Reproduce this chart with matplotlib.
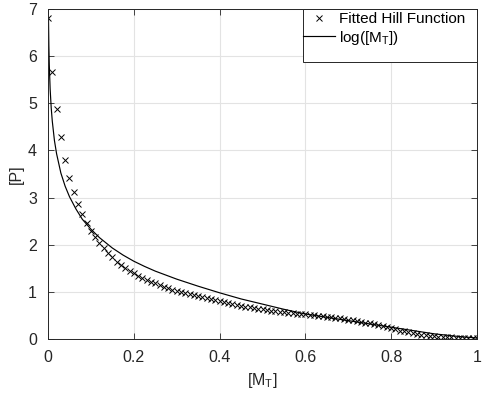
import numpy as np
import matplotlib
matplotlib.use("Agg")
import matplotlib.pyplot as plt
from matplotlib.patches import Rectangle

plt.rcParams["font.family"] = ["Liberation Sans", "DejaVu Sans"]
plt.rcParams["font.size"] = 11

# fitted hill function, sampled every 0.01 in [M_T]
hill_x = np.linspace(0, 1, 101)
hill_y = [6.80, 5.67, 4.87, 4.29, 3.80, 3.42, 3.12, 2.86, 2.65, 2.46,
          2.30, 2.16, 2.04, 1.93, 1.83, 1.73, 1.64, 1.57, 1.51, 1.45,
          1.39, 1.34, 1.29, 1.25, 1.21, 1.18, 1.14, 1.11, 1.08, 1.05,
          1.02, 0.99, 0.97, 0.95, 0.93, 0.91, 0.89, 0.87, 0.85, 0.82,
          0.80, 0.78, 0.76, 0.74, 0.72, 0.70, 0.68, 0.67, 0.65, 0.64,
          0.63, 0.62, 0.60, 0.59, 0.58, 0.57, 0.56, 0.55, 0.54, 0.53,
          0.52, 0.51, 0.50, 0.49, 0.48, 0.47, 0.46, 0.45, 0.44, 0.42,
          0.41, 0.40, 0.38, 0.37, 0.35, 0.34, 0.32, 0.30, 0.28, 0.26,
          0.24, 0.21, 0.18, 0.16, 0.14, 0.12, 0.11, 0.09, 0.08, 0.07,
          0.06, 0.05, 0.045, 0.04, 0.035, 0.03, 0.025, 0.02, 0.02, 0.015,
          0.015]

# log curve
log_x = [0.0011, 0.002, 0.003, 0.005, 0.0075, 0.01, 0.015, 0.02, 0.03, 0.04,
         0.05, 0.065, 0.08, 0.1, 0.12, 0.15, 0.175, 0.2, 0.225, 0.25, 0.3,
         0.35, 0.4, 0.45, 0.5, 0.55, 0.6, 0.65, 0.7, 0.75, 0.8, 0.85, 0.9,
         0.95, 1.0]
log_y = [6.82, 6.22, 5.81, 5.30, 4.90, 4.62, 4.21, 3.93, 3.52, 3.24,
         3.02, 2.76, 2.54, 2.33, 2.15, 1.93, 1.78, 1.65, 1.54, 1.44, 1.27,
         1.12, 0.98, 0.85, 0.74, 0.63, 0.53, 0.46, 0.39, 0.32, 0.25, 0.18,
         0.11, 0.06, 0.02]

ink = "#262626"

fig = plt.figure(figsize=(4.83, 3.95), dpi=100)
ax = fig.add_axes([48 / 483, 56 / 395, 429 / 483, 330 / 395])

ax.plot(hill_x, hill_y, "x", color="black", markersize=4.5, markeredgewidth=0.7,
        label="Fitted Hill Function")
ax.plot(log_x, log_y, "-", color="black", linewidth=0.85,
        label="log([M$_\\mathregular{T}$])")

ax.set_xlim(0, 1)
ax.set_ylim(0, 7)
ax.set_xticks([0, 0.2, 0.4, 0.6, 0.8, 1])
ax.set_xticklabels(["0", "0.2", "0.4", "0.6", "0.8", "1"])
ax.set_yticks(range(8))
ax.grid(True, color="#e3e3e3", linewidth=0.8)
ax.set_axisbelow(True)
ax.tick_params(axis="both", direction="in", length=4, width=0.6, colors=ink,
               top=True, right=True, labelsize=11.5)
ax.tick_params(axis="x", pad=8)
ax.tick_params(axis="y", pad=8)
for s in ax.spines.values():
    s.set_color(ink)
    s.set_linewidth(0.7)

ax.set_xlabel("[M$_\\mathregular{T}$]", color=ink, labelpad=4, fontsize=11.5)
ax.set_ylabel("[P]", color=ink, labelpad=3, fontsize=11.5)

# legend box
ax.add_patch(Rectangle((0.594, 0.84), 0.406, 0.16, transform=ax.transAxes,
                       facecolor="white", edgecolor=ink, linewidth=0.7,
                       zorder=5))
leg = ax.legend(loc="upper left", bbox_to_anchor=(0.594, 0.99),
                frameon=False, borderpad=0, borderaxespad=0,
                handlelength=2.1, handletextpad=0.3, labelspacing=0.15,
                fontsize=11)
leg.set_zorder(6)

fig.savefig("out.png", dpi=100)
